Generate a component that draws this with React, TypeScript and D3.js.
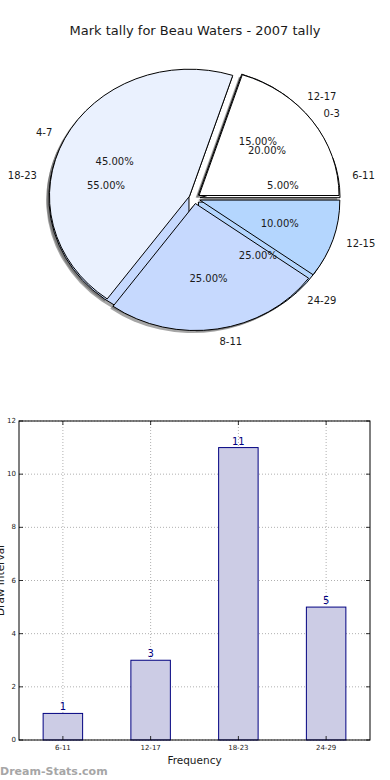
import React from "react";
import * as d3 from "d3";

// pie one (drawn on top)
const pieOneLabels = ["0-3", "4-7", "8-11", "12-15"];
const pieOneValues = [20, 45, 25, 10];

// pie two, same counts as the bar chart
const barLabels = ["6-11", "12-17", "18-23", "24-29"];
const barValues = [1, 3, 11, 5];

const wedgeColors = ["#ffffff", "#eaf1fe", "#c6d9fe", "#b4d6fe"];
const yTicks = [0, 2, 4, 6, 8, 10, 12];

const W = 390;
const H = 780;

// pie geometry (matplotlib-like, elliptical because of the axes aspect)
const cx = 194.5;
const cy = 198.5;
const rx = 140;
const ry = 127;
const explode = 0.04;

function pieParts(labels, values) {
  // matplotlib starts at 3 o'clock and goes counterclockwise
  const pie = d3
    .pie<number>()
    .sort(null)
    .startAngle(Math.PI / 2)
    .endAngle(Math.PI / 2 - 2 * Math.PI);
  const total = d3.sum(values);
  return pie(values).map((d, i) => {
    const mid = (d.startAngle + d.endAngle) / 2;
    const theta = Math.PI / 2 - mid;
    const ox = explode * rx * Math.cos(theta);
    const oy = -explode * ry * Math.sin(theta);
    return {
      d,
      label: labels[i],
      pct: ((values[i] / total) * 100).toFixed(2) + "%",
      color: wedgeColors[i % wedgeColors.length],
      theta,
      ox,
      oy
    };
  });
}

const arc = d3.arc<any>().innerRadius(0).outerRadius(1);

function Wedge({ p, shadow }) {
  const tx = cx + p.ox + (shadow ? -0.02 * rx : 0);
  const ty = cy + p.oy + (shadow ? 0.02 * ry : 0);
  return (
    <path
      d={arc(p.d) || ""}
      transform={`translate(${tx},${ty}) scale(${rx},${ry})`}
      fill={shadow ? "#4d4d4d" : p.color}
      fillOpacity={shadow ? 0.5 : 1}
      stroke={shadow ? "none" : "#000"}
      strokeWidth={1}
      vectorEffect="non-scaling-stroke"
    />
  );
}

function PieTexts({ parts }) {
  return (
    <g fontSize={10} fill="#1a1a1a">
      {parts.map((p, i) => {
        const c = Math.cos(p.theta);
        const s = Math.sin(p.theta);
        const lx = cx + p.ox + 1.1 * rx * c;
        const ly = cy + p.oy - 1.1 * ry * s;
        const px = cx + p.ox + 0.6 * rx * c;
        const py = cy + p.oy - 0.6 * ry * s;
        return (
          <g key={i}>
            <text
              x={lx}
              y={ly}
              textAnchor={c > 0 ? "start" : "end"}
              dominantBaseline="central"
            >
              {p.label}
            </text>
            <text x={px} y={py} textAnchor="middle" dominantBaseline="central">
              {p.pct}
            </text>
          </g>
        );
      })}
    </g>
  );
}

function BarChart() {
  const left = 19;
  const right = 370;
  const top = 421;
  const bottom = 740;

  const x = d3
    .scaleBand()
    .domain(barLabels)
    .range([left, right])
    .paddingInner(0.55)
    .paddingOuter(0.275);
  const y = d3.scaleLinear().domain([0, 12]).range([bottom, top]);
  const bw = x.bandwidth();

  return (
    <g>
      {/* grid */}
      <g stroke="#b0b0b0" strokeWidth={1} strokeDasharray="1,2">
        {yTicks.map(t => (
          <line key={t} x1={left} x2={right} y1={y(t)} y2={y(t)} />
        ))}
        {barLabels.map(c => (
          <line
            key={c}
            x1={(x(c) || 0) + bw / 2}
            x2={(x(c) || 0) + bw / 2}
            y1={top}
            y2={bottom}
          />
        ))}
      </g>
      {/* bars */}
      {barLabels.map((c, i) => (
        <rect
          key={c}
          x={x(c)}
          y={y(barValues[i])}
          width={bw}
          height={bottom - y(barValues[i])}
          fill="#cccce5"
          stroke="#000080"
          strokeWidth={1}
        />
      ))}
      {barLabels.map((c, i) => (
        <text
          key={c}
          x={(x(c) || 0) + bw / 2}
          y={y(barValues[i]) - 3}
          textAnchor="middle"
          fontSize={10}
          fill="#000080"
        >
          {barValues[i]}
        </text>
      ))}
      {/* frame */}
      <rect
        x={left}
        y={top}
        width={right - left}
        height={bottom - top}
        fill="none"
        stroke="#000"
        strokeWidth={1}
      />
      {/* ticks */}
      <g stroke="#000" strokeWidth={0.8}>
        {yTicks.map(t => (
          <g key={t}>
            <line x1={left} x2={left + 4} y1={y(t)} y2={y(t)} />
            <line x1={right - 4} x2={right} y1={y(t)} y2={y(t)} />
          </g>
        ))}
        {barLabels.map(c => {
          const m = (x(c) || 0) + bw / 2;
          return (
            <g key={c}>
              <line x1={m} x2={m} y1={bottom} y2={bottom - 4} />
              <line x1={m} x2={m} y1={top} y2={top + 4} />
            </g>
          );
        })}
      </g>
      <g fontSize={7} fill="#1a1a1a">
        {yTicks.map(t => (
          <text
            key={t}
            x={left - 3}
            y={y(t)}
            textAnchor="end"
            dominantBaseline="central"
          >
            {t}
          </text>
        ))}
        {barLabels.map(c => (
          <text
            key={c}
            x={(x(c) || 0) + bw / 2}
            y={bottom + 10}
            textAnchor="middle"
          >
            {c}
          </text>
        ))}
      </g>
      <text x={(left + right) / 2} y={764} textAnchor="middle" fontSize={10.5} fill="#1a1a1a">
        Frequency
      </text>
      <text
        transform={`translate(4,${(top + bottom) / 2}) rotate(-90)`}
        textAnchor="middle"
        fontSize={10.5}
        fill="#1a1a1a"
      >
        Draw Interval
      </text>
    </g>
  );
}

export default function App() {
  const partsOne = pieParts(pieOneLabels, pieOneValues);
  const partsTwo = pieParts(barLabels, barValues);

  return (
    <svg
      width={W}
      height={H}
      style={{ position: "absolute", left: 0, top: 0, background: "#fff" }}
      fontFamily="DejaVu Sans, sans-serif"
    >
      <rect width={W} height={H} fill="#fff" />
      <text x={W / 2} y={35} textAnchor="middle" fontSize={13} fill="#1a1a1a">
        Mark tally for Beau Waters - 2007 tally
      </text>
      {/* shadows sit under every wedge */}
      {partsTwo.map((p, i) => (
        <Wedge key={"s2" + i} p={p} shadow />
      ))}
      {partsOne.map((p, i) => (
        <Wedge key={"s1" + i} p={p} shadow />
      ))}
      {partsTwo.map((p, i) => (
        <Wedge key={"w2" + i} p={p} shadow={false} />
      ))}
      {partsOne.map((p, i) => (
        <Wedge key={"w1" + i} p={p} shadow={false} />
      ))}
      <PieTexts parts={partsOne} />
      <PieTexts parts={partsTwo} />
      <BarChart />
      <text x={0} y={775} fontSize={11} fontWeight="bold" fill="#a6a6a6">
        Dream-Stats.com
      </text>
    </svg>
  );
}
